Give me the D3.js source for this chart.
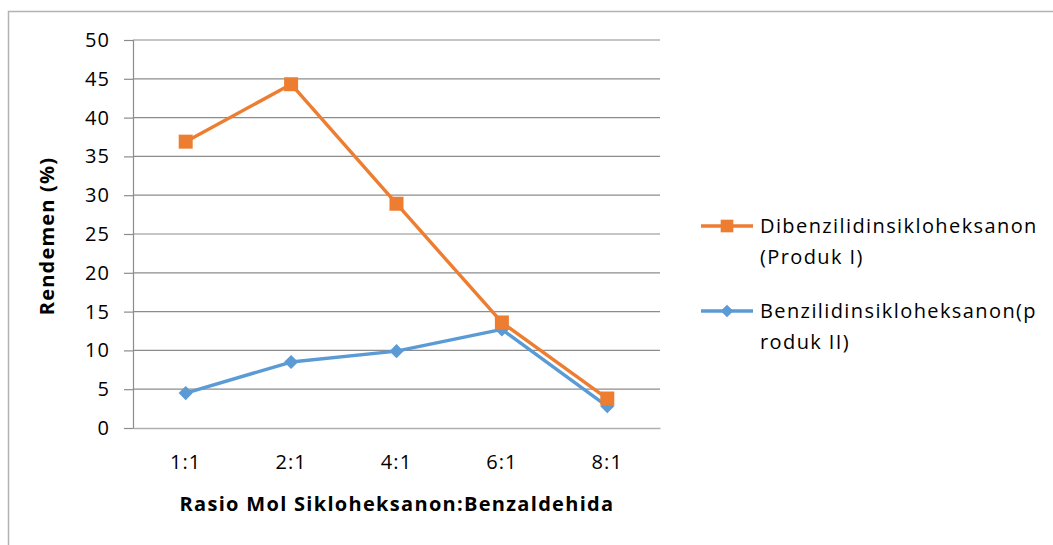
<!DOCTYPE html>
<html>
<head>
<meta charset="utf-8">
<script src="https://cdn.jsdelivr.net/npm/d3@7"></script>
<style>
  body { margin: 0; background: #fff; }
  svg { display: block; }
  text { font-family: "Open Sans", "Noto Sans", sans-serif; fill: #000; letter-spacing: 1.1px; }
</style>
</head>
<body>
<div id="chart"></div>
<script>
// categories and series
const ratios = ["1:1", "2:1", "4:1", "6:1", "8:1"];
const produkI = [36.9, 44.3, 28.9, 13.6, 3.8];
const produkII = [4.5, 8.5, 9.9, 12.7, 2.8];
const yTicks = [0, 5, 10, 15, 20, 25, 30, 35, 40, 45, 50];

const series = [
  { name: ["Dibenzilidinsikloheksanon", "(Produk I)"], values: produkI, color: "#ED7D31", marker: "square" },
  { name: ["Benzilidinsikloheksanon(p", "roduk II)"], values: produkII, color: "#5B9BD5", marker: "diamond" }
];

const W = 1053, H = 545;
const plotL = 133, plotR = 660, plotT = 40, plotB = 428;
const fontSize = "20px";

const svg = d3.select("#chart").append("svg")
  .attr("width", W).attr("height", H);

// outer chart border (only top and left are inside the shot)
svg.append("rect")
  .attr("x", 8.5).attr("y", 11.5)
  .attr("width", W + 20).attr("height", H + 20)
  .attr("fill", "none").attr("stroke", "#b3b3b3").attr("stroke-width", 1.5);

const x = d3.scaleBand().domain(ratios).range([plotL, plotR]);
const y = d3.scaleLinear().domain([0, 50]).range([plotB, plotT]);

// gridlines
svg.append("g")
  .selectAll("line")
  .data(yTicks.filter(d => d > 0))
  .join("line")
  .attr("x1", plotL).attr("x2", plotR)
  .attr("y1", d => y(d)).attr("y2", d => y(d))
  .attr("stroke", "#8c8c8c").attr("stroke-width", 1.2);

// y axis
const yAxis = svg.append("g")
  .attr("transform", `translate(${plotL},0)`)
  .call(d3.axisLeft(y).tickValues(yTicks).tickSize(9).tickPadding(14));
yAxis.select(".domain").attr("stroke", "#8c8c8c").attr("stroke-width", 1.2);
yAxis.selectAll(".tick line").attr("stroke", "#8c8c8c").attr("stroke-width", 1.2);
yAxis.selectAll(".tick text")
  .style("font-family", "'Open Sans', sans-serif")
  .style("font-size", fontSize).attr("fill", "#000");

// x axis
const xAxis = svg.append("g")
  .attr("transform", `translate(0,${plotB})`)
  .call(d3.axisBottom(x).tickSize(0).tickPadding(27));
xAxis.select(".domain").attr("stroke", "#b0b0b0").attr("stroke-width", 1.5);
xAxis.selectAll(".tick text")
  .style("font-family", "'Open Sans', sans-serif")
  .style("font-size", fontSize).attr("fill", "#000");

// axis titles
svg.append("text")
  .attr("x", 397).attr("y", 511)
  .attr("text-anchor", "middle")
  .style("font-size", fontSize).style("font-weight", "bold")
  .style("letter-spacing", "1.3px")
  .text("Rasio Mol Sikloheksanon:Benzaldehida");

svg.append("text")
  .attr("transform", `translate(54,${(plotT + plotB) / 2 + 2}) rotate(-90)`)
  .attr("text-anchor", "middle")
  .style("font-size", fontSize).style("font-weight", "bold")
  .style("letter-spacing", "1.2px")
  .text("Rendemen (%)");

// marker shapes
function markerPath(kind, big) {
  if (kind === "square") return d3.symbol().type(d3.symbolSquare).size(big ? 196 : 160)();
  return d3.symbol().type(d3.symbolSquare).size(big ? 100 : 80)();
}
function markerRot(kind) { return kind === "diamond" ? " rotate(45)" : ""; }

// lines + markers, blue first so orange sits on top
const line = d3.line()
  .x((d, i) => x(ratios[i]) + x.bandwidth() / 2)
  .y(d => y(d));

[series[1], series[0]].forEach(s => {
  svg.append("path")
    .datum(s.values)
    .attr("d", line)
    .attr("fill", "none")
    .attr("stroke", s.color)
    .attr("stroke-width", 3.4)
    .attr("stroke-linejoin", "round");
  svg.append("g")
    .selectAll("path")
    .data(s.values)
    .join("path")
    .attr("transform", (d, i) => `translate(${x(ratios[i]) + x.bandwidth() / 2},${y(d)})` + markerRot(s.marker))
    .attr("d", markerPath(s.marker, true))
    .attr("fill", s.color);
});

// legend
const legend = svg.append("g");
series.forEach((s, i) => {
  const cy = 226 + i * 85;
  legend.append("line")
    .attr("x1", 701).attr("x2", 753)
    .attr("y1", cy).attr("y2", cy)
    .attr("stroke", s.color).attr("stroke-width", 3.4);
  legend.append("path")
    .attr("transform", `translate(727,${cy})` + markerRot(s.marker))
    .attr("d", markerPath(s.marker, false))
    .attr("fill", s.color);
  s.name.forEach((t, j) => {
    legend.append("text")
      .attr("x", 760).attr("y", cy + j * 31 + 7)
      .style("font-size", fontSize)
      .style("letter-spacing", "1.4px")
      .text(t);
  });
});
</script>
</body>
</html>
